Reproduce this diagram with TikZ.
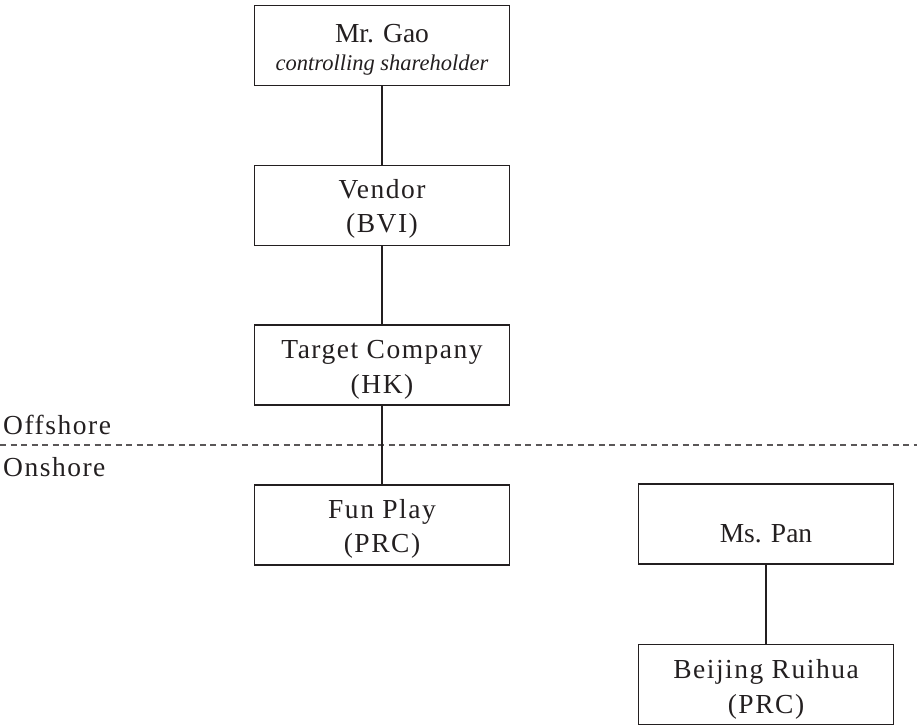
\documentclass[tikz,border=0pt]{standalone}
\usepackage{fontspec}
\setmainfont{Liberation Serif}
\newfontfamily\spacedfont[LetterSpace=5.5]{Liberation Serif}
\definecolor{ink}{HTML}{231F20}
\begin{document}
\begin{tikzpicture}[x=1pt,y=-1pt,
  entity/.style={draw=ink, line width=1.8pt, minimum width=255pt, minimum height=80pt, inner sep=0pt},
  txt/.style={anchor=base, inner sep=0pt, text=ink, font=\fontsize{27.5}{33}\selectfont},
  wide/.style={anchor=base, inner sep=0pt, text=ink, font=\spacedfont\fontsize{27.5}{33}\selectfont},
  note/.style={anchor=base, inner sep=0pt, text=ink, font=\fontsize{22.5}{27}\selectfont\itshape},
  link/.style={draw=ink, line width=1.8pt},
  region/.style={anchor=base west, inner sep=0pt, text=ink, font=\spacedfont\fontsize{27.5}{33}\selectfont},
  divider/.style={draw=ink!75, line width=1.3pt, dash pattern=on 6pt off 4.5pt}]
\useasboundingbox (0,0) rectangle (917,726);
% boxes
\node[entity] (gao) at (382,45.5) {};
\node[entity] (vendor) at (382,205.5) {};
\node[entity] (target) at (382,365) {};
\node[entity] (fun) at (382,525) {};
\node[entity] (pan) at (766,524) {};
\node[entity] (bj) at (766,684.5) {};
% texts
\node[txt] (gaoA) at (382,42) {Mr. Gao};
\node[note] (gaoB) at (382,70) {controlling shareholder};
\node[wide] (vendorA) at (382,198) {Vendor};
\node[wide] (vendorB) at (382,232) {(BVI)};
\node[wide] (targetA) at (382,358) {Target Company};
\node[wide] (targetB) at (382,393) {(HK)};
\node[wide] (funA) at (382,518) {Fun Play};
\node[wide] (funB) at (382,552) {(PRC)};
\node[txt] (panA) at (766,542) {Ms. Pan};
\node[wide] (bjA) at (766,678) {Beijing Ruihua};
\node[wide] (bjB) at (766,713) {(PRC)};
% offshore / onshore
\coordinate (dl) at (0,445);
\coordinate (dr) at (917,445);
\draw[divider] (dl) -- (dr);
\node[region] (off) at (3,434) {Offshore};
\node[region] (on) at (3,476) {Onshore};
% connectors
\draw[link] (gao.south) -- (vendor.north);
\draw[link] (vendor.south) -- (target.north);
\draw[link] (target.south) -- (fun.north);
\draw[link] (pan.south) -- (bj.north);
\end{tikzpicture}
\end{document}
